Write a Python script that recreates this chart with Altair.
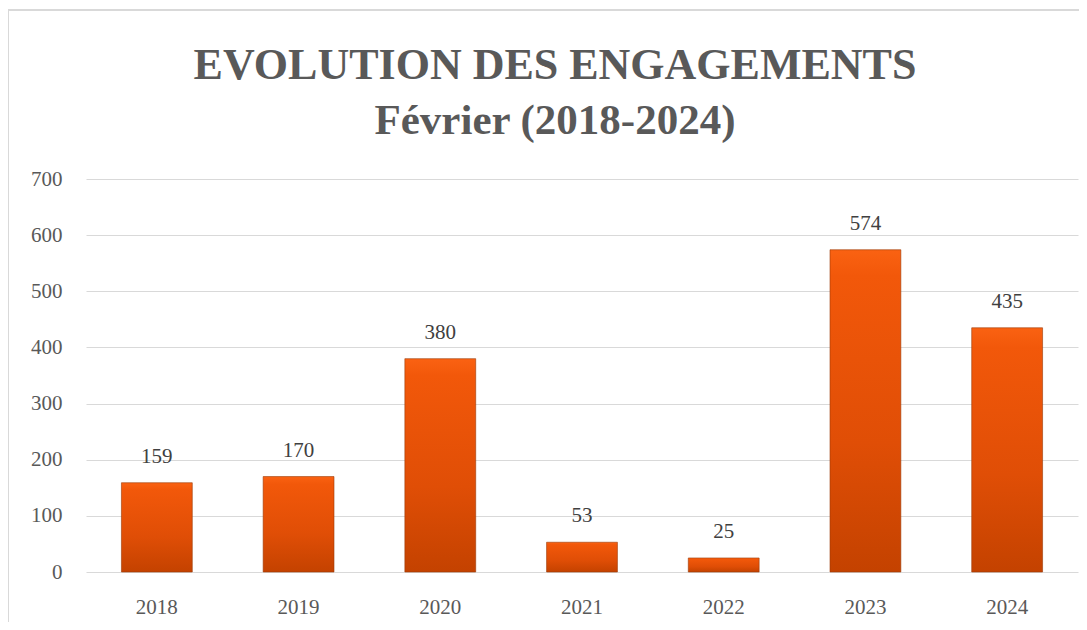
import altair as alt
import pandas as pd

years = ["2018", "2019", "2020", "2021", "2022", "2023", "2024"]
values = [159, 170, 380, 53, 25, 574, 435]

df = pd.DataFrame({"year": years, "value": values})

W, H = 992, 393
FONT = "Liberation Serif"

grad = alt.Gradient(
    gradient="linear",
    stops=[
        alt.GradientStop(color="#FA6212", offset=0),
        alt.GradientStop(color="#F2580A", offset=0.08),
        alt.GradientStop(color="#E04E06", offset=0.6),
        alt.GradientStop(color="#C44200", offset=1),
    ],
    x1=0, x2=0, y1=0, y2=1,
)

x = alt.X("year:N", sort=years, title=None,
          scale=alt.Scale(paddingInner=0.5, paddingOuter=0.25),
          axis=alt.Axis(labelAngle=0, ticks=False, domain=False, grid=False, labelPadding=24,
                        labelFont=FONT, labelFontSize=21, labelColor="#595959"))
y = alt.Y("value:Q", title=None,
          scale=alt.Scale(domain=[0, 700], nice=False),
          axis=alt.Axis(values=list(range(0, 701, 100)), ticks=False, domain=False,
                        labelPadding=24, labelFont=FONT, labelFontSize=21,
                        labelColor="#595959", gridColor="#d9d9d9", gridWidth=1.2))

frame = alt.Chart(df).mark_rect(fill="transparent", stroke="#d9d9d9", strokeWidth=1.5).encode(
    x=alt.value(-78), x2=alt.value(1040), y=alt.value(-169), y2=alt.value(480)
)

bars = alt.Chart(df).mark_bar(color=grad, stroke="#9A3A08", strokeWidth=0.6).encode(x=x, y=y)

labels = alt.Chart(df).mark_text(dy=-16, baseline="bottom", font=FONT, fontSize=21,
                                 color="#404040").encode(
    x=alt.X("year:N", sort=years), y="value:Q", text="value:Q"
)

chart = alt.layer(frame, bars, labels).properties(
    width=W, height=H,
    title=alt.TitleParams(
        text="EVOLUTION DES ENGAGEMENTS",
        subtitle="Février (2018-2024)",
        font=FONT, fontSize=44, fontWeight="bold", color="#595959",
        subtitleFont=FONT, subtitleFontSize=43, subtitleFontWeight="bold",
        subtitleColor="#595959", subtitlePadding=12,
        anchor="middle", dx=-27, offset=-134,
    ),
    autosize=alt.AutoSizeParams(type="none"),
    padding={"left": 78, "top": 171, "right": 1, "bottom": 50},
).configure(background="white").configure_view(strokeOpacity=0, strokeWidth=0)

chart.save("out.html", embed_options={"renderer": "svg", "actions": False})
